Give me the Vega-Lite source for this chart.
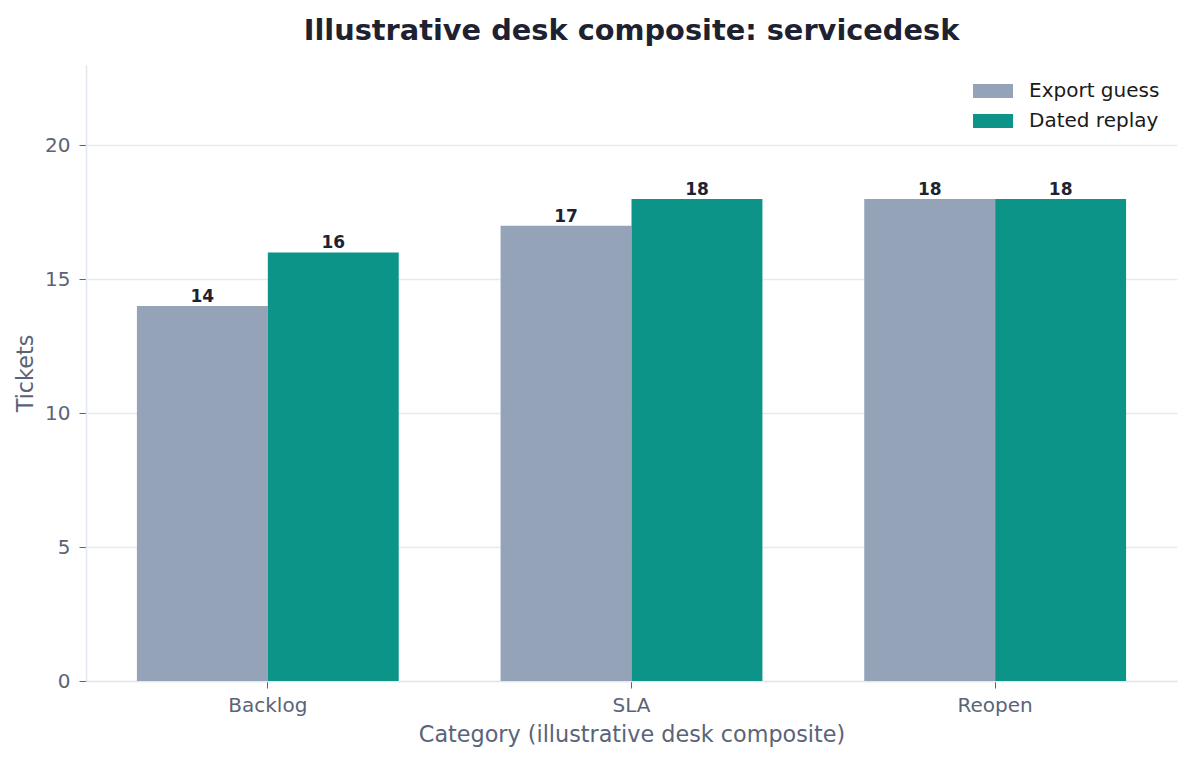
{
  "$schema": "https://vega.github.io/schema/vega-lite/v6.json",
  "width": 1091,
  "height": 616,
  "autosize": {"type": "none"},
  "padding": {"left": 86, "top": 65, "right": 16, "bottom": 79},
  "background": "white",
  "title": {
    "text": "Illustrative desk composite: servicedesk",
    "font": "DejaVu Sans",
    "fontSize": 28.8,
    "fontWeight": "bold",
    "color": "#1e2230",
    "anchor": "middle",
    "frame": "group",
    "offset": 19
  },
  "config": {
    "font": "DejaVu Sans",
    "view": {"stroke": null},
    "axis": {
      "labelFont": "DejaVu Sans",
      "titleFont": "DejaVu Sans",
      "labelFontSize": 20,
      "titleFontSize": 22.3,
      "labelColor": "#5a6478",
      "titleColor": "#5a6478",
      "titleFontWeight": "normal",
      "tickColor": "#5a6478",
      "domainColor": "#e2e8f0",
      "domainWidth": 1.5,
      "gridColor": "#e6eaf0",
      "gridWidth": 1.3
    }
  },
  "data": {
    "values": [
      {"category": "Backlog", "series": "Export guess", "tickets": 14},
      {"category": "Backlog", "series": "Dated replay", "tickets": 16},
      {"category": "SLA", "series": "Export guess", "tickets": 17},
      {"category": "SLA", "series": "Dated replay", "tickets": 18},
      {"category": "Reopen", "series": "Export guess", "tickets": 18},
      {"category": "Reopen", "series": "Dated replay", "tickets": 18}
    ]
  },
  "encoding": {
    "x": {
      "field": "category",
      "type": "nominal",
      "sort": ["Backlog", "SLA", "Reopen"],
      "scale": {"paddingInner": 0.28, "paddingOuter": 0.14},
      "axis": {
        "title": "Category (illustrative desk composite)",
        "labelAngle": 0,
        "tickSize": 7,
        "labelPadding": 7,
        "titlePadding": 8,
        "grid": false
      }
    },
    "xOffset": {
      "field": "series",
      "type": "nominal",
      "sort": ["Export guess", "Dated replay"],
      "scale": {"paddingInner": 0, "paddingOuter": 0}
    },
    "y": {
      "field": "tickets",
      "type": "quantitative",
      "scale": {"domain": [0, 23], "nice": false},
      "axis": {
        "title": "Tickets",
        "values": [0, 5, 10, 15, 20],
        "tickSize": 7,
        "labelPadding": 9,
        "titlePadding": 7,
        "grid": true
      }
    }
  },
  "layer": [
    {
      "mark": {"type": "bar"},
      "encoding": {
        "color": {
          "field": "series",
          "type": "nominal",
          "sort": ["Export guess", "Dated replay"],
          "scale": {"domain": ["Export guess", "Dated replay"], "range": ["#94a3b8", "#0d9488"]},
          "legend": {
            "title": null,
            "orient": "none",
            "legendX": 887,
            "legendY": 6,
            "labelFont": "DejaVu Sans",
            "labelFontSize": 20,
            "labelColor": "#1a1a1a",
            "symbolType": "M-1,-0.35L1,-0.35L1,0.35L-1,0.35Z",
            "symbolSize": 1600,
            "symbolStrokeWidth": 0,
            "symbolOpacity": 1,
            "labelOffset": 16,
            "rowPadding": -11
          }
        }
      }
    },
    {
      "mark": {"type": "text", "dy": -4, "baseline": "alphabetic", "fontSize": 17, "fontWeight": "bold", "color": "#1e2230", "font": "DejaVu Sans"},
      "encoding": {
        "text": {"field": "tickets", "type": "quantitative"}
      }
    }
  ]
}
